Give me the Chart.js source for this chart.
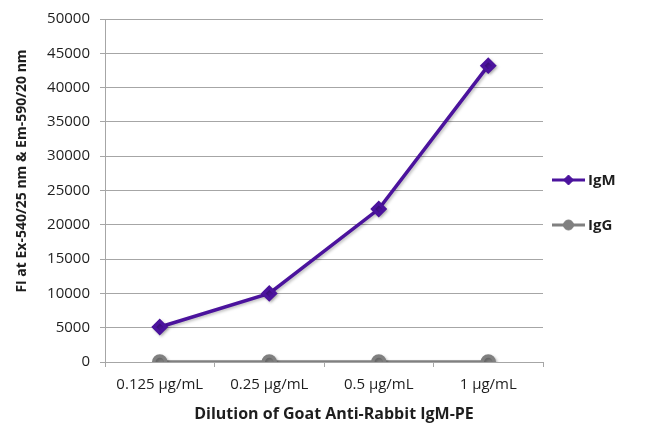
<!DOCTYPE html>
<html>
<head>
<meta charset="utf-8">
<script src="https://cdn.jsdelivr.net/npm/chart.js@4.4.1/dist/chart.umd.min.js"></script>
<style>
  html, body { margin: 0; padding: 0; background: #fff; }
  #wrap { width: 650px; height: 438px; }
</style>
</head>
<body>
<div id="wrap"><canvas id="fiChart"></canvas></div>
<script>
// chart data
const dilutions = ['0.125 µg/mL', '0.25 µg/mL', '0.5 µg/mL', '1 µg/mL'];
const igmValues = [5100, 10000, 22300, 43200];
const iggValues = [0, 0, 0, 0];
const yTicks = [0, 5000, 10000, 15000, 20000, 25000, 30000, 35000, 40000, 45000, 50000];
const xTitle = 'Dilution of Goat Anti-Rabbit IgM-PE';
const yTitle = 'FI at Ex-540/25 nm & Em-590/20 nm';

const FONT = '"Open Sans", "Noto Sans", sans-serif';
const PURPLE = '#4b139d';
const GREY = '#808080';
const TEXT = '#1e1e1e';

// axis titles, placed like the original (a little off the plot centre)
const axisTitles = {
    id: 'axisTitles',
    afterDraw(chart) {
        const ctx = chart.ctx;
        ctx.save();
        ctx.fillStyle = TEXT;
        ctx.textAlign = 'center';
        ctx.textBaseline = 'middle';
        ctx.font = 'bold 16px ' + FONT;
        ctx.fillText(xTitle, 334, 414);
        ctx.translate(22, 171);
        ctx.rotate(-Math.PI / 2);
        ctx.font = 'bold 14px ' + FONT;
        ctx.fillText(yTitle, 0, 0);
        ctx.restore();
    }
};

// legend drawn on the right, line with marker in the middle
const sideLegend = {
    id: 'sideLegend',
    afterDraw(chart) {
        const ctx = chart.ctx;
        const rowsY = [180, 225];
        chart.data.datasets.forEach((ds, i) => {
            const y = rowsY[i];
            const x0 = 552, x1 = 585;
            ctx.save();
            ctx.strokeStyle = ds.borderColor;
            ctx.fillStyle = ds.borderColor;
            ctx.lineWidth = 3;
            ctx.beginPath();
            ctx.moveTo(x0, y);
            ctx.lineTo(x1, y);
            ctx.stroke();
            ctx.lineWidth = 1;
            Chart.helpers.drawPoint(ctx, {
                pointStyle: ds.pointStyle,
                radius: 5,
                borderWidth: 1
            }, (x0 + x1) / 2, y);
            ctx.fillStyle = TEXT;
            ctx.font = 'bold 15px ' + FONT;
            ctx.textAlign = 'left';
            ctx.textBaseline = 'middle';
            ctx.fillText(ds.label, x1 + 3, y + 1);
            ctx.restore();
        });
    }
};

// soft shadow under the lines
const lineShadow = {
    id: 'lineShadow',
    beforeDatasetsDraw(chart) {
        const ctx = chart.ctx;
        ctx.save();
        ctx.shadowColor = 'rgba(0,0,0,0.25)';
        ctx.shadowBlur = 3;
        ctx.shadowOffsetX = 1.5;
        ctx.shadowOffsetY = 1.5;
    },
    afterDatasetsDraw(chart) {
        chart.ctx.restore();
    }
};

const ctx = document.getElementById('fiChart');
new Chart(ctx, {
    type: 'line',
    data: {
        labels: dilutions,
        datasets: [
            {
                label: 'IgM',
                data: igmValues,
                borderColor: PURPLE,
                backgroundColor: PURPLE,
                pointBackgroundColor: PURPLE,
                pointBorderColor: PURPLE,
                pointStyle: 'rectRot',
                pointRadius: 6,
                borderWidth: 3.5,
                tension: 0
            },
            {
                label: 'IgG',
                data: iggValues,
                borderColor: GREY,
                backgroundColor: GREY,
                pointBackgroundColor: GREY,
                pointBorderColor: GREY,
                pointStyle: 'circle',
                pointRadius: 6,
                borderWidth: 3.5,
                tension: 0
            }
        ]
    },
    options: {
        responsive: true,
        maintainAspectRatio: false,
        animation: false,
        layout: {
            padding: { left: 0, right: 107, top: 18, bottom: 0 }
        },
        plugins: {
            legend: { display: false },
            tooltip: { enabled: false }
        },
        scales: {
            x: {
                offset: true,
                afterFit(axis) { axis.height = 76; },
                grid: {
                    offset: true,
                    drawOnChartArea: false,
                    drawTicks: true,
                    tickLength: 5,
                    color: '#a6a6a6'
                },
                border: { color: '#a6a6a6', width: 1 },
                ticks: {
                    color: TEXT,
                    font: { family: FONT, size: 15 },
                    padding: 9
                }
            },
            y: {
                min: 0,
                max: 50000,
                afterFit(axis) { axis.width = 105; },
                afterBuildTicks(axis) {
                    axis.ticks = yTicks.map(v => ({ value: v }));
                },
                grid: {
                    color: '#a6a6a6',
                    tickLength: 5
                },
                border: { color: '#a6a6a6', width: 1 },
                ticks: {
                    color: TEXT,
                    font: { family: FONT, size: 15 },
                    padding: 10,
                    callback: v => String(v)
                }
            }
        }
    },
    plugins: [lineShadow, axisTitles, sideLegend]
});
</script>
</body>
</html>
